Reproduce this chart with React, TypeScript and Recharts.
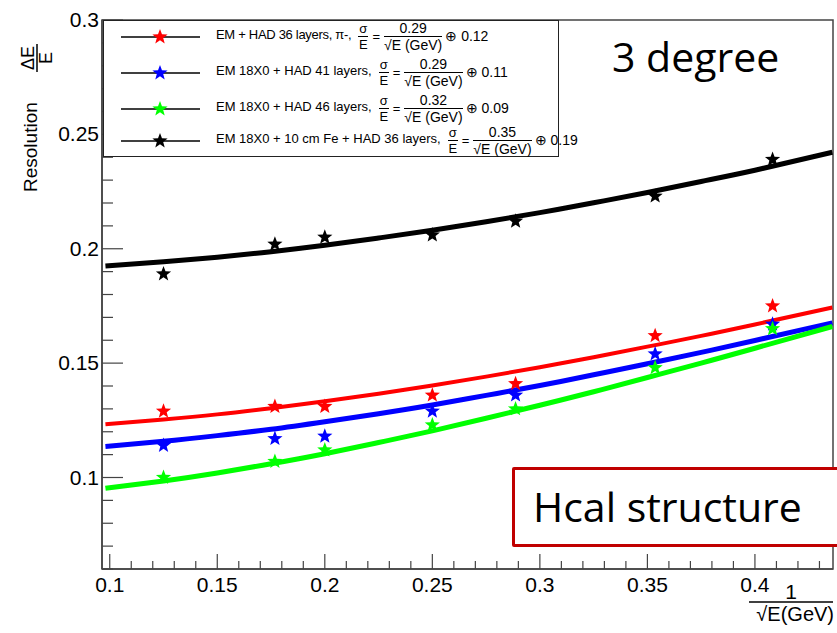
import React from "react"
import {
  ComposedChart,
  Line,
  Scatter,
  XAxis,
  YAxis,
  ReferenceArea,
} from "recharts"

// measured points, x = 1/sqrt(E)
const invSqrtE = [0.125, 0.1768, 0.2, 0.25, 0.2887, 0.3536, 0.4082]
const resHad36 = [0.129, 0.131, 0.131, 0.136, 0.141, 0.162, 0.175]
const resHad41 = [0.114, 0.117, 0.118, 0.129, 0.136, 0.154, 0.167]
const resHad46 = [0.1, 0.107, 0.112, 0.123, 0.13, 0.148, 0.165]
const resFe = [0.189, 0.202, 0.205, 0.206, 0.212, 0.223, 0.239]

// fitted curves, sampled along the axis
const fitX = [0.098, 0.125, 0.15, 0.175, 0.2, 0.225, 0.25, 0.275, 0.3, 0.325, 0.35, 0.375, 0.4, 0.436]
const fitHad36 = [0.1233, 0.1254, 0.1276, 0.1303, 0.1333, 0.1366, 0.1402, 0.1441, 0.1482, 0.1526, 0.1572, 0.1619, 0.1669, 0.1743]
const fitHad41 = [0.1136, 0.1158, 0.1183, 0.1211, 0.1244, 0.1279, 0.1317, 0.1359, 0.1402, 0.1449, 0.1497, 0.1547, 0.1599, 0.1676]
const fitHad46 = [0.0953, 0.0985, 0.102, 0.106, 0.1104, 0.1153, 0.1204, 0.1259, 0.1316, 0.1375, 0.1437, 0.15, 0.1565, 0.166]
const fitFe = [0.1925, 0.1943, 0.1963, 0.1987, 0.2015, 0.2047, 0.2081, 0.2118, 0.2158, 0.2201, 0.2246, 0.2294, 0.2343, 0.2422]

const xTicks = [
  0.1, 0.11, 0.12, 0.13, 0.14, 0.15, 0.16, 0.17, 0.18, 0.19, 0.2, 0.21, 0.22, 0.23, 0.24, 0.25, 0.26,
  0.27, 0.28, 0.29, 0.3, 0.31, 0.32, 0.33, 0.34, 0.35, 0.36, 0.37, 0.38, 0.39, 0.4, 0.41, 0.42, 0.43,
]
const yTicks = [
  0.06, 0.07, 0.08, 0.09, 0.1, 0.11, 0.12, 0.13, 0.14, 0.15, 0.16, 0.17, 0.18, 0.19, 0.2, 0.21, 0.22,
  0.23, 0.24, 0.25, 0.26, 0.27, 0.28, 0.29, 0.3,
]
const xDomain = [0.0964, 0.4363]
const yDomain = [0.06, 0.3]

const series = [
  { name: "EM + HAD 36 layers, π-,", a: "0.29", b: "0.12", color: "#ff0000", width: 4, pts: resHad36, fit: fitHad36 },
  { name: "EM 18X0 + HAD 41 layers,", a: "0.29", b: "0.11", color: "#0000ff", width: 5, pts: resHad41, fit: fitHad41 },
  { name: "EM 18X0 + HAD 46 layers,", a: "0.32", b: "0.09", color: "#00ff00", width: 5, pts: resHad46, fit: fitHad46 },
  { name: "EM 18X0 + 10 cm Fe + HAD 36 layers,", a: "0.35", b: "0.19", color: "#000000", width: 5, pts: resFe, fit: fitFe },
]

const FONT = "'Liberation Sans', Arial, sans-serif"
const FRAME = "#444"

const starPoints = (cx: number, cy: number, r: number) => {
  const out: string[] = []
  for (let i = 0; i < 10; i++) {
    const rad = i % 2 === 0 ? r : r * 0.42
    const ang = -Math.PI / 2 + (i * Math.PI) / 5
    out.push(`${cx + rad * Math.cos(ang)},${cy + rad * Math.sin(ang)}`)
  }
  return out.join(" ")
}

const Star = ({ cx, cy, color }: { cx: number; cy: number; color: string }) => (
  <polygon points={starPoints(cx, cy, 8)} fill={color} />
)

const isMajor = (v: number) => Math.round(v * 1000) % 50 === 0

const XTick = (props: any) => {
  const { x, y, payload } = props
  const major = isMajor(payload.value)
  return (
    <g>
      <line x1={x} x2={x} y1={y} y2={y - (major ? 15 : 8)} stroke={FRAME} strokeWidth={1.2} />
      {major && (
        <text x={x} y={y + 23} textAnchor="middle" fontFamily={FONT} fontSize={21} fill="#000">
          {payload.value}
        </text>
      )}
    </g>
  )
}

const YTick = (props: any) => {
  const { x, y, payload } = props
  const major = isMajor(payload.value)
  return (
    <g>
      <line x1={x} x2={x + (major ? 21 : 11)} y1={y} y2={y} stroke={FRAME} strokeWidth={1.2} />
      {major && (
        <text x={x - 3} y={y + 7} textAnchor="end" fontFamily={FONT} fontSize={21} fill="#000">
          {payload.value}
        </text>
      )}
    </g>
  )
}

const Frac = ({ top, bottom, size }: { top: React.ReactNode; bottom: React.ReactNode; size: number }) => (
  <span
    style={{
      display: "inline-flex",
      flexDirection: "column",
      alignItems: "center",
      fontSize: size,
      lineHeight: 1,
    }}
  >
    <span style={{ padding: "0 1px 1px" }}>{top}</span>
    <span style={{ borderTop: "1.5px solid #000", padding: "1px 0 0", width: "100%", textAlign: "center" }}>
      {bottom}
    </span>
  </span>
)

const rowCenters = [15, 51, 87, 119]

const LegendBox = () => (
  <div
    style={{
      position: "absolute",
      left: 103,
      top: 20,
      width: 456,
      height: 137,
      border: "1.5px solid #222",
      boxSizing: "border-box",
      background: "#fff",
      fontFamily: FONT,
      color: "#000",
    }}
  >
    {series.map((s, i) => (
      <div
        key={s.name}
        style={{
          position: "absolute",
          left: 0,
          top: rowCenters[i] - 16,
          height: 32,
          display: "flex",
          alignItems: "center",
          whiteSpace: "nowrap",
          fontSize: 13,
        }}
      >
        <svg width={112} height={32} style={{ flex: "none" }}>
          <line x1={17} x2={96} y1={17} y2={17} stroke="#000" strokeWidth={1.5} />
          <Star cx={56} cy={17} color={s.color} />
        </svg>
        <span style={{ marginTop: -3, letterSpacing: i === 0 ? -0.3 : 0 }}>{s.name}</span>
        <span style={{ marginLeft: 7 }}>
          <Frac top="σ" bottom="E" size={13} />
        </span>
        <span style={{ margin: "0 4px" }}>=</span>
        <Frac top={s.a} bottom="√E (GeV)" size={14} />
        <span style={{ fontSize: 14, marginLeft: 3 }}>⊕ {s.b}</span>
      </div>
    ))}
  </div>
)

export default function App() {
  return (
    <div
      style={{
        position: "absolute",
        left: 0,
        top: 0,
        width: 837,
        height: 633,
        overflow: "hidden",
        background: "#fff",
      }}
    >
      <ComposedChart width={837} height={633} margin={{ top: 20, right: 4, bottom: 0, left: 0 }}>
        <XAxis
          dataKey="x"
          type="number"
          domain={xDomain}
          ticks={xTicks}
          interval={0}
          allowDataOverflow
          height={64}
          tickSize={0}
          tickMargin={0}
          tickLine={false}
          axisLine={{ stroke: FRAME, strokeWidth: 1.5 }}
          tick={<XTick />}
        />
        <YAxis
          dataKey="y"
          type="number"
          domain={yDomain}
          ticks={yTicks}
          interval={0}
          allowDataOverflow
          width={102}
          tickSize={0}
          tickMargin={0}
          tickLine={false}
          axisLine={{ stroke: FRAME, strokeWidth: 1.5 }}
          tick={<YTick />}
        />
        <ReferenceArea
          x1={xDomain[0]}
          x2={xDomain[1]}
          y1={yDomain[0]}
          y2={yDomain[1]}
          fill="none"
          fillOpacity={0}
          stroke={FRAME}
          strokeWidth={1.5}
          ifOverflow="visible"
        />
        {series.map((s) => (
          <Line
            key={`fit-${s.name}`}
            data={fitX.map((x, i) => ({ x, y: s.fit[i] }))}
            dataKey="y"
            type="natural"
            stroke={s.color}
            strokeWidth={s.width}
            dot={false}
            activeDot={false}
            isAnimationActive={false}
          />
        ))}
        {series.map((s) => (
          <Scatter
            key={`pts-${s.name}`}
            data={invSqrtE.map((x, i) => ({ x, y: s.pts[i] }))}
            dataKey="y"
            shape={(p: any) => <Star cx={p.cx} cy={p.cy} color={s.color} />}
            isAnimationActive={false}
          />
        ))}
      </ComposedChart>

      <svg
        width={837}
        height={633}
        style={{ position: "absolute", left: 0, top: 0, pointerEvents: "none" }}
      >
        {/* y axis title */}
        <g transform="translate(37,192) rotate(-90)" fontFamily={FONT} fill="#000">
          <text x={0} y={0} fontSize={19}>
            Resolution
          </text>
          <text x={134} y={-3} fontSize={18} textAnchor="middle">
            ΔE
          </text>
          <line x1={120} x2={148} y1={0} y2={0} stroke="#000" strokeWidth={1.5} />
          <text x={134} y={15} fontSize={18} textAnchor="middle">
            E
          </text>
        </g>
        {/* x axis title */}
        <g fontFamily={FONT} fill="#000">
          <text x={791} y={599} fontSize={21} textAnchor="middle">
            1
          </text>
          <line x1={749} x2={833} y1={602} y2={602} stroke="#000" strokeWidth={1.5} />
          <text x={834} y={621} fontSize={20} textAnchor="end">
            √E(GeV)
          </text>
        </g>
      </svg>

      <LegendBox />

      <div
        style={{
          position: "absolute",
          left: 612,
          top: 28,
          fontFamily: "'Open Sans', sans-serif",
          fontSize: 41,
          lineHeight: "56px",
          color: "#000",
          whiteSpace: "nowrap",
        }}
      >
        3 degree
      </div>

      <div
        style={{
          position: "absolute",
          left: 512,
          top: 467,
          width: 360,
          height: 80,
          border: "3.5px solid #c00000",
          boxSizing: "border-box",
          background: "#fff",
          borderRadius: 2,
        }}
      >
        <span
          style={{
            position: "absolute",
            left: 18,
            top: 8,
            fontFamily: "'Open Sans', sans-serif",
            fontSize: 41,
            lineHeight: "56px",
            color: "#000",
            whiteSpace: "nowrap",
          }}
        >
          Hcal structure
        </span>
      </div>
    </div>
  )
}
